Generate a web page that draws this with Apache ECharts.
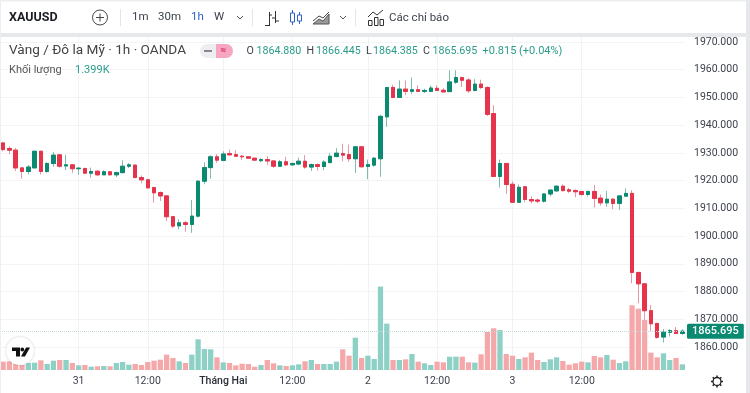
<!DOCTYPE html>
<html><head><meta charset="utf-8">
<style>html,body{margin:0;padding:0;background:#fff}#c{width:750px;height:393px}</style>
<script src="https://cdn.jsdelivr.net/npm/echarts@6/dist/echarts.min.js"></script>
</head><body><div id="c"></div>
<script>
const opens=[1933.6,1931.6,1931.0,1924.6,1923.3,1924.6,1930.6,1923.3,1926.2,1929.3,1925.3,1925.7,1924.3,1924.4,1922.7,1923.4,1922.1,1923.2,1922.1,1922.9,1925.2,1925.6,1921.1,1920.3,1917.5,1915.7,1914.5,1907.0,1903.7,1904.8,1904.2,1907.2,1919.8,1924.7,1928.6,1927.3,1929.8,1929.4,
1928.8,1928.6,1928.1,1927.2,1927.6,1927.1,1925.2,1926.8,1925.7,1926.0,1927.0,1924.9,1925.8,1925.1,1926.5,1928.7,1929.8,1929.4,1927.9,1932.2,1925.1,1925.6,1927.9,1943.0,1953.6,1950.0,1953.0,1952.2,1952.8,1952.2,1952.2,1953.3,1952.6,1952.1,1955.5,1957.2,1956.3,1952.5,1954.8,1953.6,
1944.2,1921.5,1926.2,1918.7,1912.2,1917.8,1913.2,1913.0,1912.6,1915.2,1916.3,1918.0,1916.7,1916.4,1916.1,1915.0,1916.1,1913.7,1912.0,1913.3,1911.8,1914.4,
1915.4,1886.9,1882.8,1873.1,1868.5,1863.6,1865.3,1865.9,1864.880];
const closes=[1931.2,1931.0,1924.6,1923.3,1924.9,1930.6,1923.3,1926.2,1929.2,1925.2,1925.7,1924.3,1924.5,1922.7,1923.3,1922.1,1923.2,1922.1,1922.9,1925.2,1925.7,1921.1,1920.3,1917.4,1915.6,1914.5,1907.0,1903.6,1904.8,1904.2,1907.2,1919.8,1924.7,1928.6,1927.4,1929.6,1929.3,1928.8,
1928.6,1928.1,1927.4,1927.6,1927.1,1925.2,1926.8,1925.7,1926.2,1927.0,1924.9,1925.8,1925.1,1926.7,1928.8,1929.9,1929.2,1927.9,1932.2,1925.0,1925.8,1928.1,1943.2,1953.6,1950.0,1953.0,1952.2,1952.8,1952.2,1952.5,1953.4,1952.5,1952.0,1955.6,1957.2,1956.2,1952.4,1954.8,1953.6,1943.9,
1921.5,1926.2,1918.6,1912.2,1917.6,1913.2,1912.7,1912.6,1915.2,1916.6,1918.0,1916.4,1916.2,1916.0,1915.0,1916.1,1913.6,1912.0,1913.3,1911.8,1914.5,1915.4,
1886.9,1882.8,1873.1,1868.4,1863.5,1865.4,1865.9,1864.9,1865.695];
const highs=[1933.9,1932.4,1931.7,1924.7,1925.6,1930.8,1930.8,1926.6,1930.4,1929.6,1929.3,1926.0,1925.0,1924.6,1924.7,1923.7,1923.7,1923.3,1923.2,1927.3,1926.3,1925.8,1921.9,1920.7,1917.8,1916.1,1914.6,1907.3,1906.1,1905.5,1913.0,1920.2,1926.6,1929.2,1929.6,1930.6,1931.2,1931.0,
1929.2,1928.8,1928.2,1928.1,1928.8,1927.4,1927.5,1928.6,1926.5,1928.3,1929.2,1926.2,1926.2,1927.4,1929.9,1931.7,1933.3,1933.0,1932.4,1932.2,1927.6,1928.5,1943.8,1953.7,1954.6,1956.2,1956.1,1957.2,1954.4,1953.2,1954.3,1954.4,1953.4,1959.8,1959.8,1957.5,1957.0,1956.6,1956.4,1954.0,
1947.2,1927.6,1926.3,1919.8,1918.6,1917.9,1914.4,1913.6,1915.4,1916.8,1918.2,1918.6,1917.4,1916.9,1916.3,1916.4,1918.4,1915.0,1916.3,1913.8,1914.5,1917.2,
1916.6,1886.9,1882.8,1875.2,1868.7,1866.5,1866.5,1867.2,1866.445];
const lows=[1930.6,1929.6,1923.5,1920.7,1922.2,1924.6,1922.2,1922.8,1925.0,1924.7,1923.8,1922.8,1922.1,1922.6,1921.1,1921.6,1922.0,1922.0,1921.3,1922.6,1924.5,1921.0,1919.0,1917.2,1912.1,1912.7,1905.4,1902.9,1902.4,1901.6,1901.2,1906.7,1918.7,1920.7,1926.4,1927.0,1929.1,1928.6,
1927.4,1928.0,1927.3,1926.6,1925.7,1924.6,1925.1,1925.3,1925.5,1925.6,1924.3,1923.5,1923.6,1923.8,1926.3,1928.4,1927.0,1926.8,1922.8,1924.9,1920.5,1925.0,1921.4,1939.4,1949.7,1950.0,1950.8,1951.3,1952.0,1951.6,1952.0,1952.4,1951.8,1952.0,1954.9,1953.8,1951.6,1952.2,1953.0,1943.3,
1921.4,1917.5,1915.2,1912.1,1912.1,1912.2,1911.8,1911.8,1912.1,1914.3,1916.1,1916.1,1915.6,1914.0,1914.6,1914.3,1910.3,1911.0,1910.6,1909.7,1909.4,1914.3,
1883.0,1875.8,1869.8,1865.8,1863.0,1861.6,1863.8,1864.7,1864.385];
const volumes=[2.06,2.14,1.48,1.23,1.73,1.81,2.39,1.48,2.30,2.47,2.47,1.73,1.15,1.23,0.82,0.91,0.99,0.91,1.73,1.98,1.32,1.48,1.23,1.98,2.30,2.55,3.79,2.96,2.14,1.73,3.79,7.57,5.18,5.10,3.13,1.89,1.73,1.15,1.56,1.48,0.82,1.23,2.47,1.65,1.15,0.99,1.15,1.40,
2.14,2.47,1.48,1.48,1.48,2.06,5.10,3.54,7.98,2.96,3.54,2.72,20.6,11.44,2.47,2.47,2.63,3.95,2.06,1.65,1.23,2.06,1.89,3.29,3.29,3.29,1.89,1.81,3.87,9.38,10.29,9.88,3.95,3.54,2.72,3.13,4.28,2.47,1.98,2.63,3.13,2.22,1.32,1.65,2.06,1.89,3.46,3.13,
3.70,2.55,1.73,2.14,15.97,15.14,12.35,4.28,3.13,4.12,2.47,2.96,1.399];
const tickIndex=[12,23,35,46,58,69,81,92];
const tickLabels=['31','12:00','Tháng Hai','12:00','2','12:00','3','12:00'];
const priceTicks=[1860,1870,1880,1890,1900,1910,1920,1930,1940,1950,1960,1970];
const lastPrice=closes[closes.length-1];

const GREEN='#0b8a72',RED='#e5344b',GREEN_W='#7fbcae',RED_W='#e39aa3',VG='#8dd0c5',VR='#f5a8a9';
const cats=opens.map((_,i)=>'h'+i);
const chart=echarts.init(document.getElementById('c'),null,{renderer:'canvas'});
const F='Roboto, sans-serif';
const T=(x,y,text,fill,size,extra)=>({type:'text',z:(extra&&extra.z)||50,x,y,style:Object.assign({text,fill,font:`${(extra&&extra.w)||400} ${size}px ${F}`,textVerticalAlign:'middle'},extra&&extra.s||{})});
const L=(x1,y1,x2,y2,c,w)=>({type:'line',z:50,shape:{x1,y1,x2,y2},style:{stroke:c||'#333',lineWidth:w||1}});
const R=(x,y,width,height,c,r)=>({type:'rect',z:50,shape:{x,y,width,height,r:r||0},style:{fill:c}});
const P=(pts,c,w,fill)=>({type:'polyline',z:50,shape:{points:pts},style:{stroke:c||'#333',lineWidth:w||1,fill:fill||'none'}});
const G='#2a9d8a',D='#3a3f4a';
const LF=10.7;
const gfx=[
 R(0,0,750,1.5,'#eceef1'),R(0,33,750,4,'#e6e8ec'),R(0,0,1,393,'#eceef1'),R(746,0,4,393,'#e6e8ec'),
 T(9,17.5,'XAUUSD','#1a1d24',12.5,{w:700}),
 {type:'circle',z:50,shape:{cx:100,cy:17.5,r:7.5},style:{fill:'none',stroke:'#444',lineWidth:1}},
 L(96,17.5,104,17.5,'#444'),L(100,13.5,100,21.5,'#444'),
 L(120.5,9,120.5,26,'#e3e5e9'),L(252.5,9,252.5,26,'#e3e5e9'),L(355.5,9,355.5,26,'#e3e5e9'),
 T(132,17.5,'1m',D,11.5),T(158,17.5,'30m',D,11.5),T(191,17.5,'1h','#2d62c8',11.5),T(214,17.5,'W',D,11.5),
 P([[237,16],[240,19],[243,16]],'#555'),P([[340,16],[343,19],[346,16]],'#555'),
 L(269.5,12,269.5,26,'#333'),L(265,25.5,269,25.5,'#333'),L(269,15,272,15,'#333'),L(275.5,11,275.5,23,'#333'),L(272,18,275,18,'#333'),L(276,21,279,21,'#333'),
 L(292.5,10,292.5,25,'#2d62c8'),{type:'rect',z:50,shape:{x:290.5,y:13,width:4,height:9},style:{fill:'#fff',stroke:'#2d62c8'}},
 L(299.5,12,299.5,24,'#2d62c8'),{type:'rect',z:50,shape:{x:297.5,y:15,width:4,height:6},style:{fill:'#fff',stroke:'#2d62c8'}},
 {type:'polygon',z:50,shape:{points:[[313,24],[319,19],[323,21],[329,14],[329,24]]},style:{fill:'#999',stroke:'#555'}},
 P([[313,21],[319,16],[323,18],[329,12]],'#444'),
 P([[368,17],[373,12],[377,15],[383,10]],'#333'),
 {type:'rect',z:50,shape:{x:368.5,y:20.5,width:3.5,height:5},style:{fill:'none',stroke:'#333'}},
 {type:'rect',z:50,shape:{x:374.5,y:17.5,width:3.5,height:8},style:{fill:'none',stroke:'#333'}},
 {type:'rect',z:50,shape:{x:380,y:19.5,width:3.5,height:6},style:{fill:'none',stroke:'#333'}},
 T(389,18,'Các chỉ báo',D,11.5),
 T(9,50.5,'Vàng / Đô la Mỹ · 1h · OANDA','#444',13.6),
 R(200,44,33,14,'#eceef2',7),{type:'rect',z:51,shape:{x:216,y:44,width:17,height:14,r:[0,7,7,0]},style:{fill:'#f7a6c2'}},
 L(204,51,212,51,'#888',2),T(220.5,50.5,'≈','#d8285f',10,{w:700,z:52}),
 T(246.5,51,'O',D,LF),T(256.5,51,opens[108].toFixed(3),G,LF),
 T(306.5,51,'H',D,LF),T(316,51,highs[108].toFixed(3),G,LF),
 T(366,51,'L',D,LF),T(373,51,lows[108].toFixed(3),G,LF),
 T(423,51,'C',D,LF),T(432.5,51,lastPrice.toFixed(3),G,LF),
 T(482.5,51,'+0.815 (+0.04%)',G,11),
 T(9,70.5,'Khối lượng','#555',11),T(75,70.5,volumes[108].toFixed(3)+'K',G,11),
 {type:'circle',z:50,shape:{cx:20,cy:351,r:14},style:{fill:'#fff',shadowBlur:2,shadowColor:'rgba(0,0,0,.25)'}},
 {type:'polygon',z:51,shape:{points:[[12,347.5],[20,347.5],[20,356.5],[16,356.5],[16,351],[12,351]]},style:{fill:'#111'}},
 {type:'circle',z:51,shape:{cx:22.3,cy:349.5,r:1.9},style:{fill:'#111'}},
 {type:'polygon',z:51,shape:{points:[[26,347.5],[30,347.5],[25,356.5],[21,356.5]]},style:{fill:'#111'}},
 {type:'circle',z:50,shape:{cx:717,cy:381.5,r:4},style:{fill:'none',stroke:'#222',lineWidth:1.3}},
 L(717,375.5,717,377.5,'#222',1.5),L(717,385.5,717,387.5,'#222',1.5),L(711,381.5,713,381.5,'#222',1.5),L(721,381.5,723,381.5,'#222',1.5),
 L(712.7,377.2,714.2,378.7,'#222',1.5),L(719.8,384.3,721.3,385.8,'#222',1.5),L(721.3,377.2,719.8,378.7,'#222',1.5),L(714.2,384.3,712.7,385.8,'#222',1.5)
];
const tickSet=new Set(tickIndex);
chart.setOption({
 animation:false,
 backgroundColor:'#fff',
 grid:[
  {left:0,width:685.5,top:42,height:332.75},
  {left:0,width:685.5,top:37,height:333}
 ],
 xAxis:[
  {type:'category',gridIndex:0,data:cats,show:false},
  {type:'category',gridIndex:1,data:cats,
   axisLine:{show:false},
   axisTick:{show:false},
   splitLine:{show:true,alignWithLabel:true,interval:(i)=>tickSet.has(i),lineStyle:{color:'#f1f2f5',width:1}},
   axisLabel:{interval:(i)=>tickSet.has(i),margin:6,hideOverlap:false,color:'#3a3f4a',fontFamily:F,fontSize:10.5,
     formatter:(v,i)=>{const k=tickIndex.indexOf(i);if(k<0)return '';const s=tickLabels[k];return s==='Tháng Hai'?'{b|'+s+'}':s;},
     rich:{b:{fontFamily:F,fontSize:10.5,fontWeight:500,color:'#2a2e39'}}}}
 ],
 yAxis:[
  {type:'value',gridIndex:0,position:'right',min:1850,max:1970,interval:10,
   axisLine:{show:false},axisTick:{show:false},
   splitLine:{show:true,showMinLine:false,lineStyle:{color:'#f3f4f6',width:1}},
   axisLabel:{inside:false,margin:8.5,padding:[2,0,0,0],color:'#3a3f4a',fontFamily:F,fontSize:10.5,
     formatter:(v)=>priceTicks.includes(v)?v.toFixed(3):''}},
  {type:'value',gridIndex:1,min:0,max:82.2,show:false}
 ],
 series:[
  {type:'bar',name:'Khối lượng',xAxisIndex:1,yAxisIndex:1,z:1,barWidth:'84%',
   data:volumes.map((v,i)=>({value:v,itemStyle:{color:closes[i]>=opens[i]?VG:VR}}))},
  {type:'candlestick',name:'wick',xAxisIndex:0,yAxisIndex:0,z:3,barWidth:4,
   data:opens.map((o,i)=>[o,closes[i],lows[i],highs[i]]),
   itemStyle:{color:GREEN_W,color0:RED_W,borderColor:GREEN_W,borderColor0:RED_W,borderWidth:1},
   markLine:{silent:true,symbol:'none',z:5,
     data:[{yAxis:lastPrice}],
     lineStyle:{type:'dotted',color:'#c6d9d8',width:1},
     label:{show:true,position:'end',distance:1.5,formatter:()=>lastPrice.toFixed(3),color:'#fff',backgroundColor:GREEN,
       fontFamily:F,fontSize:11,fontWeight:500,padding:[2,5,2,5],borderRadius:1.5,lineHeight:11}}},
  {type:'candlestick',name:'XAUUSD',xAxisIndex:0,yAxisIndex:0,z:4,barWidth:4,
   data:opens.map((o,i)=>[o,closes[i],Math.min(o,closes[i]),Math.max(o,closes[i])]),
   itemStyle:{color:GREEN,color0:RED,borderColor:GREEN,borderColor0:RED,borderWidth:1}}
 ],
 graphic:{elements:gfx}
});
</script></body></html>
